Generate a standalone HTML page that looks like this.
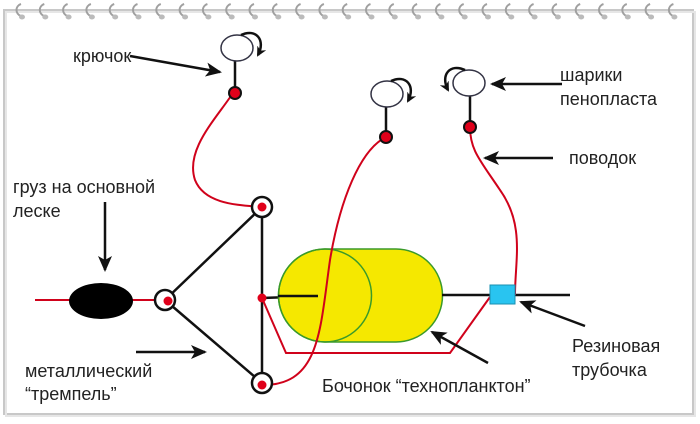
<!DOCTYPE html>
<html><head><meta charset="utf-8"><style>
html,body{margin:0;padding:0;background:#fff;width:700px;height:424px;overflow:hidden}
svg text{font-family:"Liberation Sans",sans-serif;font-size:18px;fill:#222}
</style></head><body>
<svg width="700" height="424" viewBox="0 0 700 424" xmlns="http://www.w3.org/2000/svg">
<defs>
<marker id="ah" markerWidth="10" markerHeight="10" refX="8" refY="5" orient="auto" markerUnits="userSpaceOnUse">
<path d="M0,0 L10,5 L0,10 L3,5 Z" fill="#111"/></marker>
<marker id="ah2" markerWidth="16" markerHeight="14" refX="14" refY="7" orient="auto" markerUnits="userSpaceOnUse">
<path d="M0,0 L16,7 L0,14 L4,7 Z" fill="#111"/></marker>
</defs>
<rect x="4" y="10" width="689" height="404" fill="#fff" stroke="#c8c8c8" stroke-width="2"/>
<rect x="6" y="12" width="689" height="404" fill="none" stroke="#e6e6e6" stroke-width="2"/>
<g id="rings"></g>
<line x1="35" y1="300" x2="165" y2="300" stroke="#d0021b" stroke-width="2"/>
<ellipse cx="101" cy="301" rx="32" ry="18" fill="#000"/>
<g stroke="#111" stroke-width="2.5" fill="none">
<line x1="165" y1="300" x2="262" y2="207"/>
<line x1="165" y1="300" x2="262" y2="383"/>
<line x1="262" y1="207" x2="262" y2="383"/>
<line x1="262" y1="298" x2="318" y2="296"/>
</g>
<path d="M325,249 H396 A46.5,46.5 0 0 1 396,342 H325 A46.5,46.5 0 0 1 325,249 Z" fill="#f5e800" stroke="#3a9a2a" stroke-width="1.5"/>
<circle cx="325" cy="295.5" r="46.5" fill="none" stroke="#3a9a2a" stroke-width="1.5"/>
<line x1="278" y1="296" x2="318" y2="296" stroke="#111" stroke-width="2.5"/>
<line x1="442" y1="295" x2="570" y2="295" stroke="#111" stroke-width="2.5"/>
<g stroke="#d0021b" stroke-width="2" fill="none">
<path d="M262,298 L286,353 L450,353 L490,297"/>
<path d="M233,93 C215,120 185,150 195,180 C205,205 240,205 262,207"/>
<path d="M386,137 C360,150 340,200 330,260 C320,330 320,385 263,385"/>
<path d="M470,127 C470,150 480,160 500,190 C525,225 515,260 515,295"/>
</g>
<rect x="490" y="285" width="25" height="19" fill="#29c4f0" stroke="#1a8fb0" stroke-width="1"/>
<g stroke="#111" stroke-width="2.5" fill="#fff">
<circle cx="165" cy="300" r="10"/><circle cx="262" cy="207" r="10"/><circle cx="262" cy="383" r="10"/>
</g>
<g fill="#e0001a"><circle cx="168" cy="301" r="4.5"/><circle cx="262" cy="207" r="4.5"/><circle cx="262" cy="385" r="4.5"/><circle cx="262" cy="298" r="4.5"/></g>
<g stroke="#111" stroke-width="2.5">
<line x1="235" y1="60" x2="235" y2="93"/><line x1="386" y1="105" x2="386" y2="137"/><line x1="470" y1="95" x2="470" y2="127"/>
</g>
<g fill="#fff" stroke="#334" stroke-width="1.5">
<ellipse cx="237" cy="48" rx="16" ry="13"/><ellipse cx="387" cy="94" rx="16" ry="13"/><ellipse cx="469" cy="83" rx="16" ry="13"/>
</g>
<g fill="#e0001a" stroke="#111" stroke-width="2">
<circle cx="235" cy="93" r="6"/><circle cx="386" cy="137" r="6"/><circle cx="470" cy="127" r="6"/>
</g>
<g fill="none" stroke="#111" stroke-width="2.5">
<path d="M241,35 C256,28 266,40 258,55" marker-end="url(#ah)"/>
<path d="M391,81 C406,74 416,86 408,101" marker-end="url(#ah)"/>
<path d="M465,70 C450,63 440,75 448,90" marker-end="url(#ah)"/>
</g>
<g stroke="#111" stroke-width="2.5">
<line x1="130" y1="56" x2="220" y2="72" marker-end="url(#ah2)"/>
<line x1="105" y1="202" x2="105" y2="270" marker-end="url(#ah2)"/>
<line x1="136" y1="352" x2="205" y2="352" marker-end="url(#ah2)"/>
<line x1="488" y1="363" x2="432" y2="332" marker-end="url(#ah2)"/>
<line x1="562" y1="84" x2="492" y2="84" marker-end="url(#ah2)"/>
<line x1="553" y1="158" x2="485" y2="158" marker-end="url(#ah2)"/>
<line x1="585" y1="326" x2="521" y2="302" marker-end="url(#ah2)"/>
</g>
<text x="73" y="62">крючок</text>
<text x="560" y="81">шарики</text>
<text x="560" y="105">пенопласта</text>
<text x="569" y="164">поводок</text>
<text x="13" y="193">груз на основной</text>
<text x="13" y="217">леске</text>
<text x="25" y="377">металлический</text>
<text x="25" y="400">“тремпель”</text>
<text x="322" y="392">Бочонок “технопланктон”</text>
<text x="572" y="352">Резиновая</text>
<text x="572" y="376">трубочка</text>
</svg>
<script>
var g=document.getElementById('rings'),s='';
for(var x=21;x<690;x+=23.3){s+='<path d="M'+x+',4 C'+(x-6)+',6 '+(x-6)+',14 '+x+',16" fill="none" stroke="#a0a0a0" stroke-width="2"/><ellipse cx="'+(x+1)+'" cy="17" rx="3" ry="2.5" fill="#bbb"/>';}
g.innerHTML=s;
</script>
</body></html>
